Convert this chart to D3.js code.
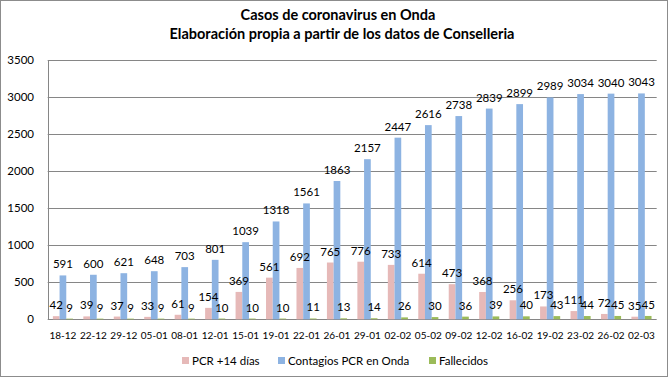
<!DOCTYPE html>
<html>
<head>
<meta charset="utf-8">
<script src="https://cdn.jsdelivr.net/npm/d3@7"></script>
<style>
  body { margin: 0; background: #fff; }
  svg text { font-family: Lato, "Open Sans", sans-serif; }
</style>
</head>
<body>
<svg id="chart" width="670" height="377"></svg>
<script>
const fechas = ["18-12", "22-12", "29-12", "05-01", "08-01", "12-01", "15-01", "19-01", "22-01", "26-01",
  "29-01", "02-02", "05-02", "09-02", "12-02", "16-02", "19-02", "23-02", "26-02", "02-03"]
const pcr14 = [42, 39, 37, 33, 61, 154, 369, 561, 692, 765, 776, 733, 614, 473, 368, 256, 173, 111, 72, 35]
const contagios = [591, 600, 621, 648, 703, 801, 1039, 1318, 1561, 1863, 2157, 2447, 2616, 2738, 2839, 2899, 2989, 3034, 3040, 3043]
const fallecidos = [9, 9, 9, 9, 9, 10, 10, 10, 11, 13, 14, 26, 30, 36, 39, 40, 43, 44, 45, 45]
const yTicks = [0, 500, 1000, 1500, 2000, 2500, 3000, 3500]

const series = [
  { name: "PCR +14 días", values: pcr14, color: "#e6b9b8" },
  { name: "Contagios PCR en Onda", values: contagios, color: "#8db3e2" },
  { name: "Fallecidos", values: fallecidos, color: "#9bbb59" }
]

const svg = d3.select("#chart")
const W = 670, H = 377
const margin = { top: 59.5, right: 13.3, bottom: 57.7, left: 47.7 }

// outer frame
svg.append("rect").attr("x", 0.5).attr("y", 0.5).attr("width", 667).attr("height", H - 1)
  .attr("fill", "#fff").attr("stroke", "#8c8c8c")

// title
const title = svg.append("text").attr("text-anchor", "middle")
  .attr("font-weight", "bold").attr("font-size", 14.5).attr("fill", "#000")
title.append("tspan").attr("x", 338).attr("y", 20).text("Casos de coronavirus en Onda")
title.append("tspan").attr("x", 342).attr("y", 38.5).text("Elaboración propia a partir de los datos de Conselleria")

const x0 = d3.scaleBand().domain(fechas).range([margin.left, W - margin.right]).paddingInner(0.34).paddingOuter(0.17)
const x1 = d3.scaleBand().domain(series.map((s) => s.name)).range([0, x0.bandwidth()])
const y = d3.scaleLinear().domain([0, 3500]).range([H - margin.bottom, margin.top])

// grid
svg.append("g").selectAll("line").data(yTicks).enter().append("line")
  .attr("x1", margin.left).attr("x2", W - margin.right)
  .attr("y1", (d) => Math.round(y(d)) + 0.5).attr("y2", (d) => Math.round(y(d)) + 0.5)
  .attr("stroke", "#868686")
svg.append("line").attr("x1", Math.round(margin.left) + 0.5).attr("x2", Math.round(margin.left) + 0.5)
  .attr("y1", Math.round(y(3500)) + 0.5).attr("y2", Math.round(y(0)) + 0.5).attr("stroke", "#868686")

// y labels
svg.append("g").selectAll("text").data(yTicks).enter().append("text")
  .attr("x", 34).attr("y", (d) => y(d)).attr("dy", "0.35em").attr("text-anchor", "end")
  .attr("font-size", 11.5).text((d) => d)

// bars
const cells = series.flatMap((s) => s.values.map((v, i) => ({ s, v, f: fechas[i] })))
svg.append("g").selectAll("rect").data(cells).enter().append("rect")
  .attr("x", (d) => x0(d.f) + x1(d.s.name))
  .attr("y", (d) => y(d.v))
  .attr("width", x1.bandwidth())
  .attr("height", (d) => y(0) - y(d.v))
  .attr("fill", (d) => d.s.color)

// value labels (on top of every bar)
svg.append("g").selectAll("text").data(cells).enter().append("text")
  .attr("x", (d) => x0(d.f) + x1(d.s.name) + x1.bandwidth() / 2)
  .attr("y", (d) => y(d.v) - 7)
  .attr("text-anchor", "middle").attr("font-size", 11.5).attr("fill", "#000")
  .text((d) => d.v)

// x labels
svg.append("g").selectAll("text").data(fechas).enter().append("text")
  .attr("x", (d) => x0(d) + x0.bandwidth() / 2).attr("y", 335).attr("dy", "0.35em")
  .attr("text-anchor", "middle").attr("font-size", 10).text((d) => d)

// legend
const legX = [182, 278, 429]
const leg = svg.append("g").selectAll("g").data(series).enter().append("g")
  .attr("transform", (d, i) => `translate(${legX[i]},361)`)
leg.append("rect").attr("x", 0).attr("y", -4).attr("width", 7).attr("height", 7).attr("fill", (d) => d.color)
leg.append("text").attr("x", 10).attr("y", 0).attr("dy", "0.35em").attr("font-size", 11.5).text((d) => d.name)
</script>
</body>
</html>
